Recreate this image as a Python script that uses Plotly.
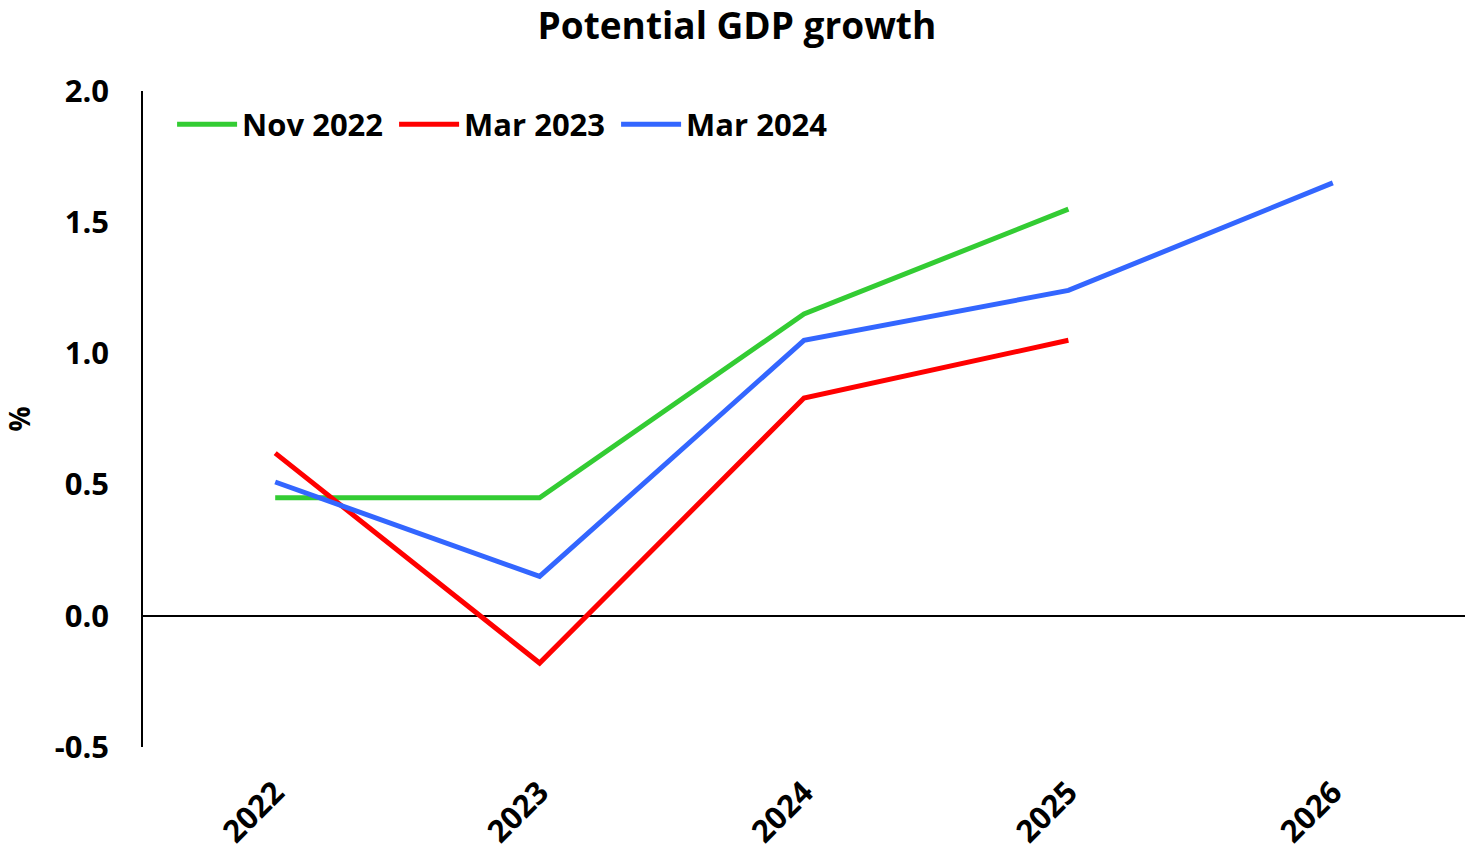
import plotly.graph_objects as go

years = ["2022", "2023", "2024", "2025", "2026"]
nov_2022 = [0.45, 0.45, 1.15, 1.55]
mar_2023 = [0.62, -0.18, 0.83, 1.05]
mar_2024 = [0.51, 0.15, 1.05, 1.24, 1.65]

y_ticks = [-0.5, 0.0, 0.5, 1.0, 1.5, 2.0]
y_tick_labels = ["-0.5", "0.0", "0.5", "1.0", "1.5", "2.0"]

series = [
    ("Nov 2022", nov_2022, "#33cc33"),
    ("Mar 2023", mar_2023, "#ff0000"),
    ("Mar 2024", mar_2024, "#3366ff"),
]

FONT = "Open Sans"
BOLD = dict(family=FONT, size=31, weight="bold", color="black")

fig = go.Figure()
for name, vals, color in series:
    fig.add_trace(go.Scatter(
        x=years[:len(vals)], y=vals, name=name, mode="lines",
        line=dict(color=color, width=5),
    ))

fig.update_layout(
    width=1465, height=853,
    margin=dict(l=143, r=0, t=91, b=106),
    paper_bgcolor="white", plot_bgcolor="white",
    font=dict(family=FONT, size=30, color="black"),
    title=dict(text="Potential GDP growth", x=0.503, xanchor="center",
               y=0.97, yanchor="middle",
               font=dict(family=FONT, size=37, weight="bold", color="black")),
    showlegend=True,
    legend=dict(orientation="h", x=0.022, y=0.99, xanchor="left", yanchor="top",
                font=BOLD, bgcolor="rgba(0,0,0,0)", itemwidth=60,
                entrywidth=147, entrywidthmode="pixels", tracegroupgap=0),
    xaxis=dict(
        type="category", range=[-0.5, 4.5], showgrid=False, showline=False,
        ticks="", tickangle=-45, tickfont=BOLD, ticklabelstandoff=20,
        automargin=False,
    ),
    yaxis=dict(
        range=[-0.5, 2.0], tickvals=y_ticks, ticktext=y_tick_labels,
        showgrid=False, showline=True, linecolor="black", linewidth=1.5,
        zeroline=True, zerolinecolor="black", zerolinewidth=1.5,
        ticks="", tickfont=BOLD, ticklabelstandoff=26, automargin=False,
        title=dict(text="%", standoff=22,
                   font=dict(family=FONT, size=28, weight="bold", color="black")),
    ),
)

fig.write_html("out.html")
